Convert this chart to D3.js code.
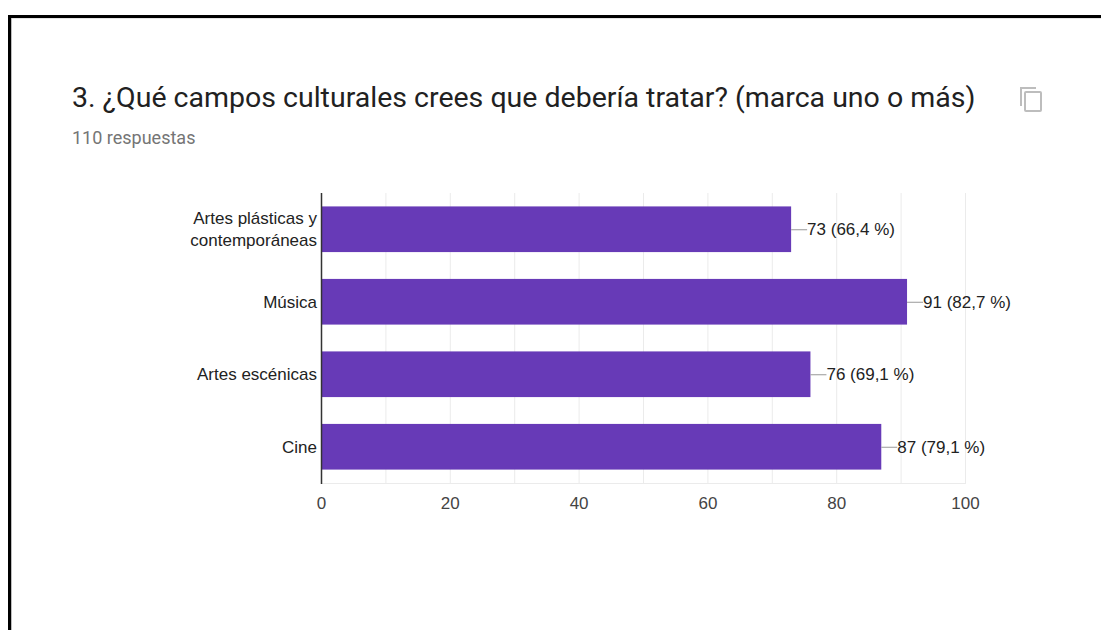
<!DOCTYPE html>
<html>
<head>
<meta charset="utf-8">
<script src="https://cdn.jsdelivr.net/npm/d3@7"></script>
<style>
  html, body { margin: 0; padding: 0; background: #fff; }
  svg { display: block; }
</style>
</head>
<body>
<svg id="chart" width="1101" height="630"></svg>
<script>
// Survey question data
const categories = [
  ["Artes plásticas y", "contemporáneas"],
  ["Música"],
  ["Artes escénicas"],
  ["Cine"]
];
const counts = [73, 91, 76, 87];
const percents = ["66,4", "82,7", "69,1", "79,1"];
const tickValues = [0, 20, 40, 60, 80, 100];
const gridValues = [0, 10, 20, 30, 40, 50, 60, 70, 80, 90, 100];

const svg = d3.select("#chart");
const labelFont = "Liberation Sans, Arial, sans-serif";

// Card frame
svg.append("rect").attr("x", 11).attr("y", 18).attr("width", 1090).attr("height", 1)
  .attr("fill", "#e4e4e4");
svg.append("rect").attr("x", 11).attr("y", 18).attr("width", 1).attr("height", 612)
  .attr("fill", "#bdbdbd");
svg.append("path")
  .attr("d", "M9.5,630 V16.5 H1101")
  .attr("fill", "none").attr("stroke", "#000").attr("stroke-width", 3);

// Header
svg.append("text")
  .attr("x", 72).attr("y", 107)
  .attr("font-family", "Roboto, sans-serif")
  .attr("font-size", 28.5)
  .attr("fill", "#212121")
  .text("3. ¿Qué campos culturales crees que debería tratar? (marca uno o más)");

svg.append("text")
  .attr("x", 72).attr("y", 144)
  .attr("font-family", "Roboto, sans-serif")
  .attr("font-size", 18)
  .attr("fill", "#757575")
  .text("110 respuestas");

// Copy icon
const icon = svg.append("g").attr("fill", "none").attr("stroke", "#bdbdbd").attr("stroke-width", 2);
icon.append("path").attr("d", "M1021,106 V88 H1036");
icon.append("rect").attr("x", 1025).attr("y", 92).attr("width", 16).attr("height", 19).attr("rx", 1);

// Plot area
const plot = { left: 321, right: 965, top: 193, bottom: 483 };

const x = d3.scaleLinear().domain([0, 100]).range([plot.left, plot.right]);
const y = d3.scaleBand()
  .domain(d3.range(counts.length))
  .range([plot.top, plot.bottom])
  .paddingInner(0.37)
  .paddingOuter(0.185);

// Vertical gridlines
svg.append("g")
  .selectAll("line")
  .data(gridValues)
  .join("line")
  .attr("x1", d => x(d) + 0.5).attr("x2", d => x(d) + 0.5)
  .attr("y1", plot.top).attr("y2", plot.bottom)
  .attr("stroke", "#ebebeb").attr("stroke-width", 1);

// Bottom baseline of the plot area
svg.append("line")
  .attr("x1", plot.left).attr("x2", plot.right + 1)
  .attr("y1", plot.bottom + 0.5).attr("y2", plot.bottom + 0.5)
  .attr("stroke", "#ebebeb");

// Bars
svg.append("g")
  .selectAll("rect")
  .data(counts)
  .join("rect")
  .attr("x", x(0))
  .attr("y", (d, i) => y(i))
  .attr("width", d => x(d) - x(0))
  .attr("height", y.bandwidth())
  .attr("fill", "#673ab7");

// Value labels with leader lines
const labels = svg.append("g");
counts.forEach((d, i) => {
  const cy = y(i) + y.bandwidth() / 2;
  labels.append("line")
    .attr("x1", x(d)).attr("x2", x(d) + 16)
    .attr("y1", cy + 0.5).attr("y2", cy + 0.5)
    .attr("stroke", "#999").attr("stroke-width", 1);
  labels.append("text")
    .attr("x", x(d) + 16).attr("y", cy + 6)
    .attr("font-family", labelFont)
    .attr("font-size", 17)
    .attr("fill", "#222")
    .text(`${d} (${percents[i]} %)`);
});

// X axis tick labels
const xAxis = d3.axisBottom(x).tickValues(tickValues).tickSize(0).tickPadding(14);
const gx = svg.append("g").attr("transform", `translate(0,${plot.bottom})`).call(xAxis);
gx.select(".domain").remove();
gx.selectAll("text")
  .attr("font-family", labelFont)
  .attr("font-size", 17)
  .attr("fill", "#444");

// Category labels
const catG = svg.append("g")
  .attr("font-family", labelFont)
  .attr("font-size", 17)
  .attr("fill", "#222")
  .attr("text-anchor", "end");
categories.forEach((lines, i) => {
  const cy = y(i) + y.bandwidth() / 2;
  const lh = 22;
  const start = cy - (lines.length - 1) * lh / 2;
  lines.forEach((t, k) => {
    catG.append("text")
      .attr("x", plot.left - 4)
      .attr("y", start + k * lh + 6)
      .text(t);
  });
});

// Vertical axis line
svg.append("line")
  .attr("x1", plot.left + 0.5).attr("x2", plot.left + 0.5)
  .attr("y1", plot.top).attr("y2", plot.bottom + 1)
  .attr("stroke", "#333").attr("stroke-width", 1.5);
</script>
</body>
</html>
